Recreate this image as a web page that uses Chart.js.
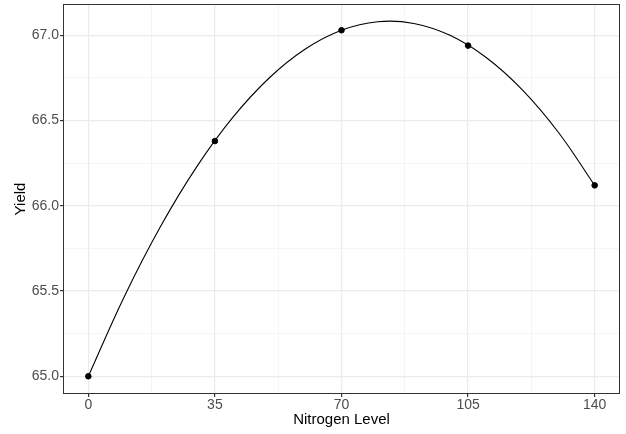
<!DOCTYPE html>
<html>
<head>
<meta charset="utf-8">
<script src="https://cdn.jsdelivr.net/npm/chart.js@4/dist/chart.umd.min.js"></script>
<style>
  html, body { margin: 0; padding: 0; background: #fff; }
  canvas { display: block; }
</style>
</head>
<body>
<canvas id="yieldChart" width="626" height="434"></canvas>
<script>
// observed means
var nitrogen = [0, 35, 70, 105, 140];
var yieldObs = [65.00, 66.38, 67.03, 66.94, 66.12];

// fitted curve
var curveX = [0, 10, 20, 30, 40, 50, 60, 70, 80, 90, 100, 110, 120, 130, 140];
var curveY = [65.00, 65.47, 65.88, 66.23, 66.52, 66.75, 66.92, 67.03, 67.08, 67.07, 67.00, 66.87, 66.68, 66.43, 66.12];

// axis ticks (major get labels, minor only grid)
var xMajor = [0, 35, 70, 105, 140];
var xMinor = [17.5, 52.5, 87.5, 122.5];
var yMajor = [65.0, 65.5, 66.0, 66.5, 67.0];
var yMinor = [65.25, 65.75, 66.25, 66.75];

var fontFamily = "'Liberation Sans', Arial, Helvetica, sans-serif";

function toPoints(xs, ys) {
    return xs.map(function (x, i) { return { x: x, y: ys[i] }; });
}

function isMajor(list, v) {
    return list.some(function (m) { return Math.abs(m - v) < 1e-9; });
}

var panelBorder = {
    id: 'panelBorder',
    afterDraw: function (chart) {
        var a = chart.chartArea, ctx = chart.ctx;
        ctx.save();
        ctx.strokeStyle = '#333333';
        ctx.lineWidth = 1;
        ctx.strokeRect(Math.round(a.left) + 0.5, Math.round(a.top) + 0.5,
            Math.round(a.right - a.left) - 1, Math.round(a.bottom - a.top) - 1);
        ctx.restore();
    }
};

function gridFor(majors) {
    return {
        color: function (c) { return isMajor(majors, c.tick.value) ? '#EBEBEB' : '#F3F3F3'; },
        lineWidth: function (c) { return isMajor(majors, c.tick.value) ? 1.2 : 0.8; },
        tickColor: function (c) { return isMajor(majors, c.tick.value) ? '#333333' : 'rgba(0,0,0,0)'; },
        tickLength: 3,
        drawTicks: true
    };
}

var config = {
    type: 'scatter',
    data: {
        datasets: [
            {
                label: 'observed',
                data: toPoints(nitrogen, yieldObs),
                backgroundColor: '#000000',
                borderColor: '#000000',
                pointRadius: 2.8,
                pointHoverRadius: 2.8,
                showLine: false
            },
            {
                label: 'fit',
                data: toPoints(curveX, curveY),
                borderColor: '#000000',
                borderWidth: 1.1,
                pointRadius: 0,
                showLine: true,
                fill: false,
                tension: 0.4
            }
        ]
    },
    options: {
        responsive: false,
        animation: false,
        layout: { padding: { top: 4, right: 6, left: 0, bottom: 0 } },
        plugins: {
            legend: { display: false },
            tooltip: { enabled: false }
        },
        scales: {
            x: {
                type: 'linear',
                min: -7,
                max: 147,
                afterBuildTicks: function (s) {
                    s.ticks = xMajor.concat(xMinor).sort(function (a, b) { return a - b; })
                        .map(function (v) { return { value: v }; });
                },
                afterFit: function (s) {
                    s.height = 40;
                    s.paddingLeft = 0;
                    s.paddingRight = 0;
                },
                grid: gridFor(xMajor),
                border: { display: false },
                ticks: {
                    autoSkip: false,
                    maxRotation: 0,
                    padding: 0,
                    color: '#4D4D4D',
                    font: { family: fontFamily, size: 14 },
                    callback: function (v) { return isMajor(xMajor, v) ? String(v) : ''; }
                },
                title: {
                    display: true,
                    text: 'Nitrogen Level',
                    color: '#000000',
                    font: { family: fontFamily, size: 15 },
                    padding: { top: 0, bottom: 5 }
                }
            },
            y: {
                type: 'linear',
                min: 64.896,
                max: 67.184,
                afterBuildTicks: function (s) {
                    s.ticks = yMajor.concat(yMinor).sort(function (a, b) { return a - b; })
                        .map(function (v) { return { value: v }; });
                },
                afterFit: function (s) {
                    s.width = 63;
                    s.paddingTop = 0;
                    s.paddingBottom = 0;
                },
                grid: gridFor(yMajor),
                border: { display: false },
                ticks: {
                    autoSkip: false,
                    padding: 1,
                    color: '#4D4D4D',
                    font: { family: fontFamily, size: 14 },
                    callback: function (v) { return isMajor(yMajor, v) ? v.toFixed(1) : ''; }
                },
                title: {
                    display: true,
                    text: 'Yield',
                    color: '#000000',
                    font: { family: fontFamily, size: 15 },
                    padding: { top: 12, bottom: 0 }
                }
            }
        }
    },
    plugins: [panelBorder]
};

var ctx = document.getElementById('yieldChart').getContext('2d');
var chart = new Chart(ctx, config);
</script>
</body>
</html>
